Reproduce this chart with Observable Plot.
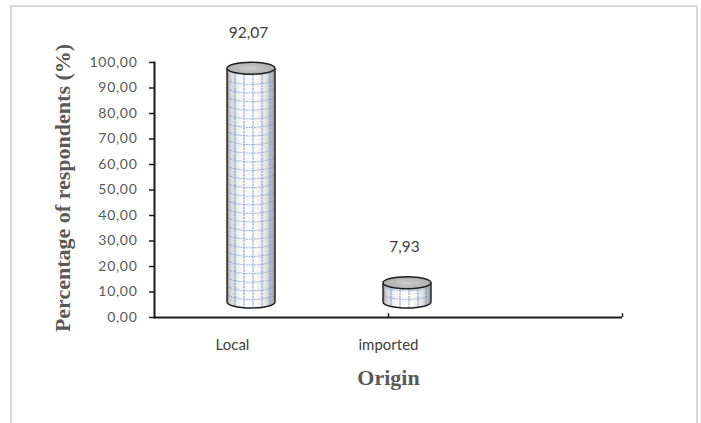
<!DOCTYPE html>
<html>
<head>
<meta charset="utf-8">
<script src="https://cdn.jsdelivr.net/npm/d3@7"></script>
<script src="https://cdn.jsdelivr.net/npm/@observablehq/plot@0.6"></script>
<style>
  body { margin: 0; background: #fff; }
  #wrap { position: relative; width: 701px; height: 423px; overflow: hidden; }
  #border { position: absolute; left: 10px; top: 5px; width: 688px; height: 440px;
            border: 2px solid #d9d9d9; box-sizing: border-box; }
  #chart { position: absolute; left: 0; top: 0; }
  #chart g[aria-label="y-axis tick label"] text { letter-spacing: 0.7px; }
</style>
</head>
<body>
<div id="wrap"><div id="border"></div><div id="chart"></div></div>
<script>
// Share of respondents by origin of the product
const categories = ["Local", "imported", ""];
const values = [92.07, 7.93];
const yTicks = [0, 10, 20, 30, 40, 50, 60, 70, 80, 90, 100];
const yTitle = "Percentage of respondents (%)";
const xTitle = "Origin";

const data = values.map((v, i) => ({origin: categories[i], pct: v}));
const fmt = d => d3.format(".2f")(d).replace(".", ",");

// 3-D cylinder look: offset back/up from the category position
const depthX = 19, depthTop = -14, depthBottom = -15, rx = 24, ry = 6;

function drawCylinders(index, scales, values) {
  const g = d3.create("svg:g");
  const defs = g.append("defs");
  const shade = defs.append("linearGradient").attr("id", "cyl-shade")
    .attr("x1", 0).attr("x2", 1).attr("y1", 0).attr("y2", 0);
  [[0, "#8c8c8c"], [0.07, "#d4d4d4"], [0.3, "#fbfbfb"], [0.55, "#ffffff"],
   [0.8, "#e6e6e6"], [0.95, "#b0b0b0"], [1, "#8a8a8a"]]
    .forEach(([o, c]) => shade.append("stop").attr("offset", o).attr("stop-color", c));
  const cap = defs.append("radialGradient").attr("id", "cyl-cap");
  cap.append("stop").attr("offset", 0).attr("stop-color", "#cdcdcd");
  cap.append("stop").attr("offset", 1).attr("stop-color", "#adadad");

  const half = scales.x.bandwidth ? scales.x.bandwidth() / 2 : 0;
  const yb = scales.y(0) + depthBottom;
  for (const i of index) {
    const cx = values.x[i] + half + depthX;
    const yt = values.y[i] + depthTop;
    const body = `M${cx - rx},${yt}V${yb}A${rx},${ry} 0 0 0 ${cx + rx},${yb}V${yt}Z`;
    const clipId = `cyl-clip-${i}`;
    defs.append("clipPath").attr("id", clipId).append("path").attr("d", body);

    g.append("path").attr("d", body).attr("fill", "url(#cyl-shade)");

    // blue grid printed on the cylinder
    const grid = g.append("g").attr("clip-path", `url(#${clipId})`)
      .attr("fill", "none").attr("stroke", "#6f9bd8").attr("stroke-width", 1);
    for (const off of [-16, -7, 2, 11, 19]) {
      grid.append("path").attr("d", `M${cx + off},${yt}V${yb + ry}`)
        .attr("stroke-dasharray", "2.5,0.8");
    }
    for (let yy = yb - 8.6; yy > yt + 2; yy -= 8.6) {
      grid.append("path").attr("d", `M${cx - rx},${yy}A${rx},${ry} 0 0 0 ${cx + rx},${yy}`)
        .attr("stroke-dasharray", "1.4,1.2");
    }

    g.append("path")
      .attr("d", `M${cx - rx},${yt}V${yb}A${rx},${ry} 0 0 0 ${cx + rx},${yb}V${yt}`)
      .attr("fill", "none").attr("stroke", "#1e1e1e").attr("stroke-width", 1.4);
    g.append("ellipse").attr("cx", cx).attr("cy", yt).attr("rx", rx).attr("ry", ry)
      .attr("fill", "url(#cyl-cap)").attr("stroke", "#1e1e1e").attr("stroke-width", 1.4);
  }
  return g.node();
}

const chart = Plot.plot({
  width: 701,
  height: 423,
  marginLeft: 154,
  marginRight: 79,
  marginTop: 62,
  marginBottom: 106,
  style: {background: "transparent", fontFamily: "Lato, 'Open Sans', sans-serif", overflow: "visible"},
  x: {type: "band", domain: categories, padding: 0, label: null},
  y: {domain: [0, 100], label: null},
  marks: [
    // axis lines
    Plot.frame({anchor: "left", stroke: "#1a1a1a", strokeWidth: 2}),
    Plot.ruleY([0], {stroke: "#1a1a1a", strokeWidth: 2}),
    Plot.ruleX(["imported"], {y1: 0, y2: 1.5, stroke: "#1a1a1a", strokeWidth: 1.5}),
    Plot.ruleX([""], {y1: 0, y2: 1.5, dx: 78, stroke: "#1a1a1a", strokeWidth: 1.5}),
    // y axis ticks and labels
    Plot.axisY({ticks: yTicks, tickSize: 5, tickFormat: () => "", stroke: "#1a1a1a", strokeWidth: 1.5}),
    Plot.axisY({ticks: yTicks, tickSize: 0, tickPadding: 17, tickFormat: fmt,
                fontSize: 14, color: "#595959"}),
    // category labels
    Plot.axisX({tickSize: 0, tickPadding: 22, fontSize: 15, color: "#404040"}),
    // cylinders
    Plot.dot(data, {x: "origin", y: "pct", render: drawCylinders}),
    // value labels
    Plot.text(data, {x: "origin", y: "pct", text: d => fmt(d.pct), dx: 16, dy: -50,
                     fontSize: 15.5, fill: "#404040"}),
    // axis titles
    Plot.text([yTitle], {frameAnchor: "left", textAnchor: "middle", rotate: -90, dx: -92, dy: -2,
                         fontFamily: "'Liberation Serif', serif", fontWeight: "bold",
                         fontSize: 22, fill: "#595959"}),
    Plot.text([xTitle], {frameAnchor: "bottom", dy: 67,
                         fontFamily: "'Liberation Serif', serif", fontWeight: "bold",
                         fontSize: 22, fill: "#595959"})
  ]
});
document.getElementById("chart").appendChild(chart);
</script>
</body>
</html>
